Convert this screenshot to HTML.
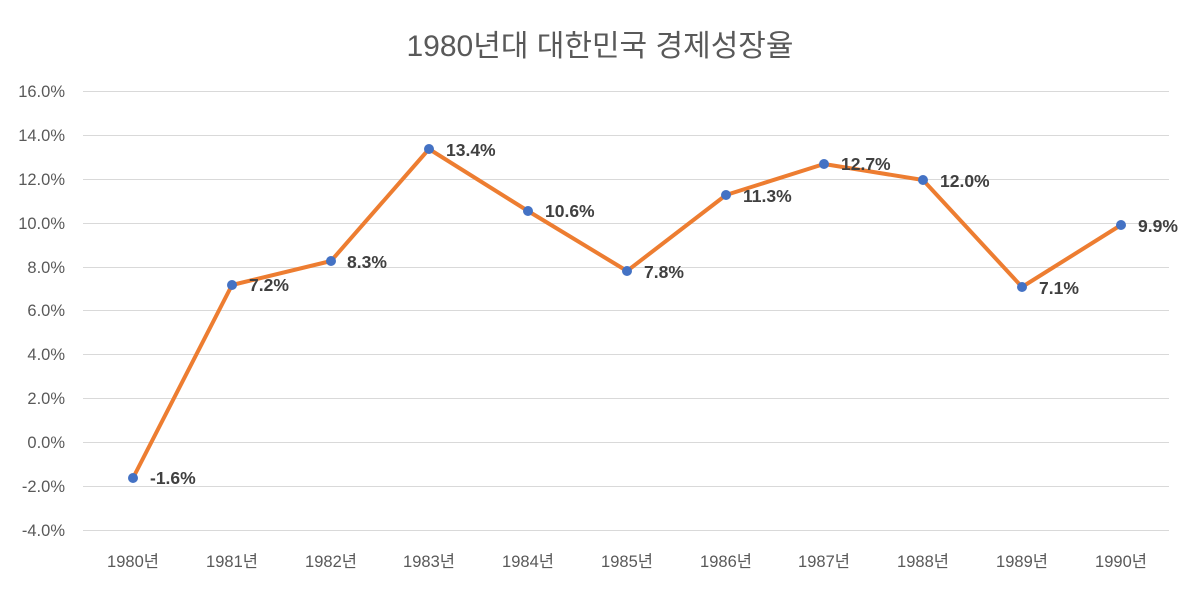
<!DOCTYPE html>
<html><head><meta charset="utf-8"><style>
body{margin:0;background:#fff;}
svg text{font-family:"Liberation Sans","Noto Sans CJK KR",sans-serif;}
</style></head><body>
<svg width="1193" height="590" xmlns="http://www.w3.org/2000/svg">
<rect width="1193" height="590" fill="#fff"/>
<text x="600" y="56" font-size="30" fill="#595959" text-anchor="middle">1980년대 대한민국 경제성장율</text>
<g stroke="#d9d9d9" stroke-width="1">
<line x1="83" x2="1169" y1="91.5" y2="91.5"/>
<line x1="83" x2="1169" y1="135.5" y2="135.5"/>
<line x1="83" x2="1169" y1="179.5" y2="179.5"/>
<line x1="83" x2="1169" y1="223.5" y2="223.5"/>
<line x1="83" x2="1169" y1="267.5" y2="267.5"/>
<line x1="83" x2="1169" y1="310.5" y2="310.5"/>
<line x1="83" x2="1169" y1="354.5" y2="354.5"/>
<line x1="83" x2="1169" y1="398.5" y2="398.5"/>
<line x1="83" x2="1169" y1="442.5" y2="442.5"/>
<line x1="83" x2="1169" y1="486.5" y2="486.5"/>
<line x1="83" x2="1169" y1="530.5" y2="530.5"/>
</g>
<g font-size="16.5" fill="#595959" text-anchor="end">
<text x="65" y="97">16.0%</text>
<text x="65" y="141">14.0%</text>
<text x="65" y="185">12.0%</text>
<text x="65" y="229">10.0%</text>
<text x="65" y="273">8.0%</text>
<text x="65" y="316">6.0%</text>
<text x="65" y="360">4.0%</text>
<text x="65" y="404">2.0%</text>
<text x="65" y="448">0.0%</text>
<text x="65" y="492">-2.0%</text>
<text x="65" y="536">-4.0%</text>
</g>
<g font-size="16.5" fill="#595959" text-anchor="middle">
<text x="133" y="567">1980년</text>
<text x="232" y="567">1981년</text>
<text x="331" y="567">1982년</text>
<text x="429" y="567">1983년</text>
<text x="528" y="567">1984년</text>
<text x="627" y="567">1985년</text>
<text x="726" y="567">1986년</text>
<text x="824" y="567">1987년</text>
<text x="923" y="567">1988년</text>
<text x="1022" y="567">1989년</text>
<text x="1121" y="567">1990년</text>
</g>
<polyline fill="none" stroke="#ed7d31" stroke-width="4" stroke-linejoin="round" points="133,478 232,285 331,261 429,149 528,211 627,271 726,195 824,164 923,180 1022,287 1121,225"/>
<g fill="#4472c4">
<circle cx="133" cy="478" r="5"/><circle cx="232" cy="285" r="5"/><circle cx="331" cy="261" r="5"/><circle cx="429" cy="149" r="5"/><circle cx="528" cy="211" r="5"/><circle cx="627" cy="271" r="5"/><circle cx="726" cy="195" r="5"/><circle cx="824" cy="164" r="5"/><circle cx="923" cy="180" r="5"/><circle cx="1022" cy="287" r="5"/><circle cx="1121" cy="225" r="5"/>
</g>
<g font-size="17.5" font-weight="bold" fill="#404040">
<text x="150" y="484">-1.6%</text>
<text x="249" y="291">7.2%</text>
<text x="347" y="268">8.3%</text>
<text x="446" y="156">13.4%</text>
<text x="545" y="217">10.6%</text>
<text x="644" y="278">7.8%</text>
<text x="743" y="202">11.3%</text>
<text x="841" y="170">12.7%</text>
<text x="940" y="187">12.0%</text>
<text x="1039" y="294">7.1%</text>
<text x="1138" y="232">9.9%</text>
</g>
</svg>
</body></html>
